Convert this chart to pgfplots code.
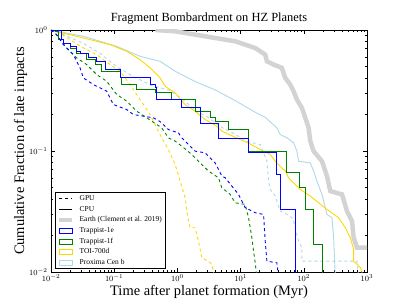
\documentclass[border=0pt]{standalone}
\usepackage{pgfplots}
\pgfplotsset{compat=1.18}
\usepackage{fontspec}
\setmainfont{Liberation Serif}
\definecolor{cb}{rgb}{0,0,1}
\definecolor{cg}{rgb}{0,0.5,0}
\definecolor{cy}{HTML}{FFD700}
\definecolor{cl}{HTML}{ADD8E6}
\definecolor{ce}{HTML}{D3D3D3}
\pgfplotsset{
 lineleg/.style={legend image code/.code={\draw[##1] (0bp,0bp) -- (13bp,0bp);}},
 boxleg/.style={legend image code/.code={\draw[##1] (0bp,-2.5bp) rectangle (13bp,2.5bp);}},
}
\begin{document}
\begin{tikzpicture}
\useasboundingbox (0,0) rectangle (407bp,305bp);
\begin{axis}[
 at={(51bp,33bp)}, anchor=south west,
 scale only axis, width=316bp, height=242bp,
 xmode=log, ymode=log,
 xmin=0.01, xmax=1000, ymin=0.01, ymax=1,
 xtick={0.01,0.1,1,10,100,1000},
 ytick={0.01,0.1,1},
 tick label style={font=\fontsize{8}{9}\selectfont},
 xticklabel style={yshift=1pt},
 major tick length=4bp, minor tick length=2bp,
 axis line style={line width=0.8pt},
 every tick/.style={black, line width=0.5pt},
 title={Fragment Bombardment on HZ Planets},
 title style={font=\fontsize{12.5}{14}\selectfont, yshift=-4pt},
 xlabel={Time after planet formation (Myr)},
 ylabel={Cumulative Fraction of late impacts},
 label style={font=\fontsize{14.5}{16}\selectfont},
 xlabel style={yshift=3pt},
 ylabel style={yshift=-5pt},
 legend cell align=left,
 legend style={at={(0.013,0.012)}, anchor=south west, draw=black, line width=0.8pt,
   font=\fontsize{7.5}{8.5}\selectfont, row sep=1.8pt, inner xsep=2pt, inner ysep=1.5pt,
   nodes={inner sep=1.2pt, text height=5pt, text depth=1.5pt},
   /tikz/every odd column/.append style={column sep=4pt}},
]
\addlegendimage{black, line width=0.9pt, dash pattern=on 3pt off 3pt, lineleg}
\addlegendentry{GPU}
\addlegendimage{black, line width=0.9pt, lineleg}
\addlegendentry{CPU}
\addlegendimage{ce, line width=4pt, lineleg}
\addlegendentry{Earth (Clement et al. 2019)}
\addlegendimage{draw=cb, line width=0.9pt, boxleg}
\addlegendentry{Trappist-1e}
\addlegendimage{draw=cg, line width=0.9pt, boxleg}
\addlegendentry{Trappist-1f}
\addlegendimage{draw=cy, line width=0.9pt, boxleg}
\addlegendentry{TOI-700d}
\addlegendimage{draw=cl, line width=0.9pt, boxleg}
\addlegendentry{Proxima Cen b}

% Earth
\addplot[ce, line width=4.5pt, forget plot] coordinates {
(0.45,1.0)(0.9207,0.975)(1.909,0.915)(3.961,0.859)(8.213,0.806)(11.83,0.757)(17.03,0.710)
(24.53,0.626)(26.06,0.551)(33.24,0.518)(45.04,0.486)(50.85,0.402)(61.03,0.354)(68.92,0.312)
(77.83,0.266)(93.41,0.227)(105.5,0.188)(119.1,0.1553)(126.6,0.1206)(142.9,0.0997)(193.8,0.0824)
(232.5,0.0620)(262.6,0.0466)(401.8,0.0438)(482.3,0.0319)(578.6,0.0264)(614.9,0.0192)(694.3,0.0159)(1000,0.0159)};

% Proxima Cen b GPU
\addplot[cl, line width=0.9pt, dash pattern=on 3pt off 3pt, forget plot] coordinates {
(0.01,1.0)(0.0123,0.969)(0.03252,0.776)(0.05971,0.642)(0.1097,0.498)(0.2014,0.412)(0.370,0.352)
(0.7672,0.316)(1.248,0.264)(2.029,0.212)(2.922,0.193)(4.753,0.159)(7.728,0.140)(12.57,0.1198)
(20.44,0.1131)(23.08,0.0966)(26.06,0.0824)(27.70,0.0564)(29.44,0.0481)(35.33,0.0424)(37.54,0.0385)
(42.39,0.0319)(54.04,0.0299)(64.86,0.0281)(68.92,0.0264)(82.71,0.0180)(93.41,0.0159)(93.41,0.0123)
(694.3,0.0123)(737.9,0.009)};
% Proxima Cen b CPU
\addplot[cl, line width=0.9pt, forget plot] coordinates {
(0.01,1.0)(0.03252,0.887)(0.1097,0.733)(0.2569,0.606)(0.5328,0.551)(0.9207,0.456)(1.909,0.375)
(3.961,0.320)(8.213,0.261)(17.03,0.209)(24.53,0.190)(37.54,0.1553)(42.39,0.1368)(54.04,0.1284)
(68.92,0.1168)(77.83,0.0997)(82.71,0.0824)(126.6,0.0798)(142.9,0.0682)(161.4,0.0564)(193.8,0.0438)
(232.5,0.0299)(279.0,0.0281)(296.5,0.0192)(315.1,0.009)};

% TOI-700d GPU
\addplot[cy, line width=0.9pt, dash pattern=on 3pt off 3pt, forget plot] coordinates {
(0.01,1.0)(0.0123,0.975)(0.0200,0.832)(0.03252,0.710)(0.05288,0.626)(0.0860,0.518)(0.1239,0.456)
(0.1784,0.354)(0.2275,0.293)(0.2901,0.242)(0.3700,0.200)(0.4718,0.1553)(0.5661,0.1284)(0.7219,0.1029)
(0.9207,0.0774)(1.105,0.0564)(1.326,0.0411)(1.409,0.0319)(1.497,0.0264)(1.591,0.0232)(1.909,0.0232)
(2.156,0.0180)(2.435,0.0131)(3.105,0.0123)(3.507,0.0116)(3.818,0.009)};
% TOI-700d CPU
\addplot[cy, line width=0.9pt, forget plot] coordinates {
(0.01,0.987)(0.0200,0.915)(0.04147,0.832)(0.0860,0.757)(0.1580,0.667)(0.2569,0.569)(0.3700,0.486)
(0.5328,0.402)(0.6393,0.343)(0.9207,0.302)(1.326,0.242)(1.909,0.213)(2.750,0.182)(4.209,0.1603)
(5.051,0.1458)(7.728,0.1317)(13.36,0.1161)(20.44,0.1029)(29.44,0.0936)(35.33,0.0824)(50.85,0.0682)
(57.43,0.0601)(87.9,0.0481)(126.6,0.0424)(232.5,0.0329)(355.9,0.0281)(453.8,0.0232)(544.5,0.0192)
(614.9,0.0154)(614.9,0.0123)(694.3,0.0116)(784.1,0.0109)(833.2,0.0100)(833.2,0.009)};

% Trappist-1f GPU
\addplot[cg, line width=0.9pt, dash pattern=on 3pt off 3pt, forget plot] coordinates {
(0.01,1.0)(0.01157,0.945)(0.01771,0.710)(0.0255,0.588)(0.03672,0.518)(0.05288,0.428)(0.07615,0.377)
(0.1097,0.293)(0.1580,0.258)(0.2275,0.213)(0.3276,0.188)(0.4718,0.1655)(0.5661,0.1553)(0.7219,0.1284)
(0.9207,0.1206)(1.174,0.1096)(1.691,0.0936)(2.435,0.0774)(3.105,0.0682)(4.473,0.0601)(5.051,0.0497)
(6.844,0.0438)(8.213,0.0373)(11.83,0.0362)(13.36,0.0281)(14.19,0.0232)(15.08,0.0192)(16.03,0.0149)
(17.03,0.0119)(18.10,0.009)};
% Trappist-1f CPU
\addplot[cg, line width=0.9pt, const plot, forget plot] coordinates {
(0.01,1.0)(0.01157,0.975)(0.01307,0.838)(0.01568,0.781)(0.0200,0.710)(0.0255,0.646)(0.0367,0.569)
(0.0498,0.518)(0.0635,0.456)(0.1239,0.402)(0.1316,0.354)(0.2275,0.322)(0.4438,0.302)(0.8153,0.266)
(1.909,0.213)(3.300,0.188)(3.961,0.177)(6.44,0.1504)(13.36,0.0997)(52.8,0.066)(85.8,0.0497)
(105.5,0.0329)(142.9,0.0169)(193.8,0.009)};

% Trappist-1e GPU
\addplot[cb, line width=0.9pt, dash pattern=on 3pt off 3pt, forget plot] coordinates {
(0.01,1.0)(0.0123,0.915)(0.01568,0.757)(0.02258,0.626)(0.0288,0.486)(0.03252,0.402)(0.04683,0.354)
(0.07615,0.312)(0.0971,0.242)(0.1580,0.220)(0.2014,0.200)(0.2901,0.194)(0.4178,0.188)(0.5328,0.175)
(0.7219,0.1504)(1.040,0.1412)(1.174,0.1284)(1.909,0.0997)(2.750,0.0966)(3.961,0.0798)(5.051,0.0620)
(5.703,0.0601)(7.273,0.0513)(9.275,0.0438)(11.83,0.0340)(17.03,0.0309)(23.08,0.0299)(24.53,0.0180)
(26.06,0.0123)(37.54,0.0119)(39.89,0.009)};
% Trappist-1e CPU
\addplot[cb, line width=0.9pt, const plot, forget plot] coordinates {
(0.01,1.0)(0.01476,0.838)(0.01568,0.781)(0.0200,0.729)(0.0255,0.667)(0.0288,0.646)(0.0390,0.588)
(0.0528,0.551)(0.0717,0.471)(0.1239,0.402)(0.370,0.354)(0.444,0.332)(0.472,0.266)(1.174,0.227)
(2.29,0.170)(4.47,0.128)(13.36,0.0978)(37.5,0.064)(42.4,0.0329)(73.2,0.009)};
\end{axis}
\end{tikzpicture}
\end{document}
